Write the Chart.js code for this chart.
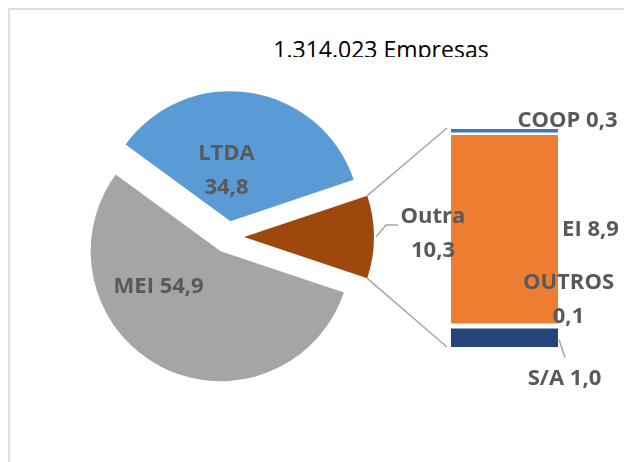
<!DOCTYPE html>
<html>
<head>
<meta charset="utf-8">
<script src="https://cdn.jsdelivr.net/npm/chart.js@4/dist/chart.umd.min.js"></script>
<style>
  html, body { margin: 0; padding: 0; background: #fff; }
  #wrap { position: relative; width: 624px; height: 462px; overflow: hidden; }
  #frame { position: absolute; left: 8px; top: 8px; width: 720px; height: 520px; border: 2px solid #dedede; }
  #title { position: absolute; left: 231px; top: 33px; width: 300px; height: 24px; line-height: 31px;
           overflow: hidden; text-align: center; font: 23px "Open Sans", sans-serif; color: #000; }
  canvas { position: absolute; left: 0; top: 0; }
</style>
</head>
<body>
<div id="wrap">
  <div id="frame"></div>
  <div id="title"></div>
  <canvas id="bar" width="624" height="462"></canvas>
  <canvas id="pie" width="624" height="462"></canvas>
</div>
<script>
const titleText = '1.314.023 Empresas';
const pieLabels = ['MEI', 'LTDA', 'Outra'];
const pieValues = [54.9, 34.8, 10.3];
const barLabels = ['S/A', 'OUTROS', 'EI', 'COOP'];   // stacked bottom -> top
const barValues = [1.0, 0.1, 8.9, 0.3];

const pieColors = ['#a5a5a5', '#5b9bd5', '#9e480e'];
const barColors = ['#264478', '#ffffff', '#ed7d31', '#4472c4'];
const barBorders = [{top: 3}, {top: 0}, {top: 0}, {bottom: 5}];

const labelColor = '#595959';
const labelFont = 'bold 22px "Open Sans", sans-serif';
const lineGray = '#a6a6a6';
const lineStep = 34;
const explode = 16;

// label placement relative to each slice / bar segment centre
const pieLabelPos = [
  {dx: -62, dy: 36, split: false},
  {dx: -4, dy: -50, split: true},
  {dx: 189, dy: -3, split: true}
];
const barLabelPos = [
  {dx: 60, dy: 42, split: false},
  {dx: 64, dy: -25, split: true},
  {dx: 86, dy: 0, split: false},
  {dx: 63, dy: -11, split: false}
];

document.getElementById('title').textContent = titleText;

const fmt = v => v.toFixed(1).replace('.', ',');
const pieTotal = pieValues.reduce((a, b) => a + b, 0);
const barTotal = barValues.reduce((a, b) => a + b, 0);

function drawLabel(ctx, name, value, x, y, split) {
    ctx.save();
    ctx.fillStyle = labelColor;
    ctx.font = labelFont;
    ctx.textAlign = 'center';
    ctx.textBaseline = 'middle';
    if (split) {
        ctx.fillText(name, x, y - lineStep / 2);
        ctx.fillText(fmt(value), x, y + lineStep / 2);
    } else {
        ctx.fillText(name + ' ' + fmt(value), x, y);
    }
    ctx.restore();
}

function arcShift(arc) {
    const mid = (arc.startAngle + arc.endAngle) / 2;
    return {x: arc.x + Math.cos(mid) * explode, y: arc.y + Math.sin(mid) * explode, mid: mid};
}

function line(ctx, pts) {
    ctx.save();
    ctx.strokeStyle = lineGray;
    ctx.lineWidth = 1.5;
    ctx.beginPath();
    ctx.moveTo(pts[0][0], pts[0][1]);
    pts.slice(1).forEach(p => ctx.lineTo(p[0], p[1]));
    ctx.stroke();
    ctx.restore();
}

// exploded pie: move every slice out along its middle angle
const explodePlugin = {
    id: 'explode',
    beforeDatasetDraw(chart, args) {
        const ctx = chart.ctx;
        args.meta.data.forEach(arc => {
            const mid = (arc.startAngle + arc.endAngle) / 2;
            ctx.save();
            ctx.translate(Math.cos(mid) * explode, Math.sin(mid) * explode);
            arc.draw(ctx);
            ctx.restore();
        });
        return false;
    }
};

const pieLabelPlugin = {
    id: 'pieLabels',
    afterDatasetsDraw(chart) {
        const ctx = chart.ctx;
        chart.getDatasetMeta(0).data.forEach((arc, i) => {
            const c = arcShift(arc);
            const p = pieLabelPos[i];
            drawLabel(ctx, pieLabels[i], pieValues[i], c.x + p.dx, c.y + p.dy, p.split);
        });
        // leader for the last slice
        const arc = chart.getDatasetMeta(0).data[2];
        const c = arcShift(arc);
        const x0 = c.x + Math.cos(c.mid) * (arc.outerRadius + 2);
        const y0 = c.y + Math.sin(c.mid) * (arc.outerRadius + 2);
        line(ctx, [[x0, y0], [x0 + 10, y0 - 12], [x0 + 22, y0 - 12]]);
    }
};

const pieChart = new Chart(document.getElementById('pie'), {
    type: 'pie',
    data: {
        labels: pieLabels,
        datasets: [{
            data: pieValues,
            backgroundColor: pieColors,
            borderWidth: 0
        }]
    },
    options: {
        responsive: false,
        animation: false,
        events: [],
        rotation: 90 + pieValues[2] / pieTotal * 180,
        layout: { padding: { left: 98, right: 266, top: 107, bottom: 95 } },
        plugins: {
            legend: { display: false },
            tooltip: { enabled: false }
        }
    },
    plugins: [explodePlugin, pieLabelPlugin]
});

const barLabelPlugin = {
    id: 'barLabels',
    afterDatasetsDraw(chart) {
        const ctx = chart.ctx;
        const bars = barLabels.map((_, i) => chart.getDatasetMeta(i).data[0]);
        bars.forEach((el, i) => {
            const p = barLabelPos[i];
            drawLabel(ctx, barLabels[i], barValues[i], el.x + p.dx, (el.y + el.base) / 2 + p.dy, p.split);
        });

        // connectors from the pie's "Outra" slice to the bar
        const arc = pieChart.getDatasetMeta(0).data[2];
        const c = arcShift(arc);
        const r = arc.outerRadius;
        const top = bars[bars.length - 1];
        const bottom = bars[0];
        const left = top.x - top.width / 2 - 4;
        line(ctx, [[c.x + Math.cos(arc.startAngle) * r, c.y + Math.sin(arc.startAngle) * r], [left, top.y - 1]]);
        line(ctx, [[c.x + Math.cos(arc.endAngle) * r, c.y + Math.sin(arc.endAngle) * r], [left, bottom.base]]);

        // leader for S/A
        const sx = bottom.x + bottom.width / 2 + 1;
        const sy = (bottom.y + bottom.base) / 2 + 3;
        line(ctx, [[sx, sy], [sx + 6, sy + 18]]);
    }
};

new Chart(document.getElementById('bar'), {
    type: 'bar',
    data: {
        labels: [''],
        datasets: barLabels.map((name, i) => ({
            label: name,
            data: [barValues[i]],
            backgroundColor: barColors[i],
            borderColor: '#ffffff',
            borderWidth: barBorders[i],
            borderSkipped: false,
            barPercentage: 1,
            categoryPercentage: 1
        }))
    },
    options: {
        responsive: false,
        animation: false,
        events: [],
        layout: { padding: { left: 451, right: 66, top: 129, bottom: 115 } },
        scales: {
            x: { display: false, stacked: true },
            y: { display: false, stacked: true, min: 0, max: barTotal }
        },
        plugins: {
            legend: { display: false },
            tooltip: { enabled: false }
        }
    },
    plugins: [barLabelPlugin]
});
</script>
</body>
</html>
